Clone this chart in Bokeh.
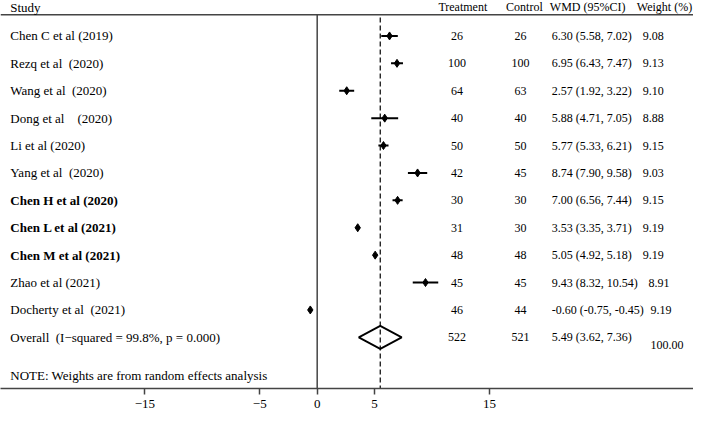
from bokeh.plotting import figure
from bokeh.models import Range1d, FixedTicker
from bokeh.core.properties import value
from bokeh.embed import file_html
from bokeh.resources import INLINE

# ---------------- data ----------------
studies = ["Chen C et al (2019)", "Rezq et al\u00a0 (2020)", "Wang et al\u00a0 (2020)",
           "Dong et al\u00a0\u00a0\u00a0 (2020)", "Li et al (2020)", "Yang et al\u00a0 (2020)",
           "Chen H et al (2020)", "Chen L et al (2021)", "Chen M et al (2021)",
           "Zhao et al (2021)", "Docherty et al\u00a0 (2021)"]
bold = [False, False, False, False, False, False, True, True, True, False, False]
wmd = [6.30, 6.95, 2.57, 5.88, 5.77, 8.74, 7.00, 3.53, 5.05, 9.43, -0.60]
lo = [5.58, 6.43, 1.92, 4.71, 5.33, 7.90, 6.56, 3.35, 4.92, 8.32, -0.75]
hi = [7.02, 7.47, 3.22, 7.05, 6.21, 9.58, 7.44, 3.71, 5.18, 10.54, -0.45]
treatment = [26, 100, 64, 40, 50, 42, 30, 31, 48, 45, 46]
control = [26, 100, 63, 40, 50, 45, 30, 30, 48, 45, 44]
weight = ["9.08", "9.13", "9.10", "8.88", "9.15", "9.03", "9.15", "9.19", "9.19", "8.91", "9.19"]

overall_label = "Overall\u00a0 (I\u2212squared = 99.8%, p = 0.000)"
overall_wmd, overall_lo, overall_hi = 5.49, 3.62, 7.36
overall_treat, overall_ctrl, overall_weight = 522, 521, "100.00"
headers = ["Study", "Treatment", "Control", "WMD (95%CI)", "Weight (%)"]
note = "NOTE: Weights are from random effects analysis"
tick_vals = [-15, -5, 0, 5, 15]
tick_labels = {-15: "\u221215", -5: "\u22125", 0: "0", 5: "5", 15: "15"}

# ---------------- layout helpers ----------------
FONT = value("Liberation Serif")
PX0, PXU = 324.0, 11.75          # reference pixel of x=0, pixels per unit
def px2x(px):
    return (px - PX0) / PXU

ROW0, ROWH = 37.0, 28.6          # reference pixel of row 0, row height
def py2r(py):
    return (py - ROW0) / ROWH

W, H = 693, 412
p = figure(width=W, height=H, output_backend="svg", toolbar_location=None,
           x_range=Range1d(px2x(0), px2x(709)),
           y_range=Range1d(py2r(405), py2r(0)),
           y_axis_type=None, min_border_left=0, min_border_right=0,
           min_border_top=0, min_border_bottom=24)
p.outline_line_color = None
p.grid.visible = False
p.background_fill_color = "white"

n = len(studies)
rows = list(range(n))
r_over = n
y_top = py2r(15)
y_bot = py2r(405)

# header rule
p.segment(x0=[px2x(0)], y0=[y_top], x1=[px2x(709)], y1=[y_top], line_color="#444444", line_width=1.5)
# null line and overall dashed line
p.segment(x0=[0], y0=[y_top], x1=[0], y1=[y_bot], line_color="#444444", line_width=1.5)
p.segment(x0=[overall_wmd], y0=[y_top + 0.1], x1=[overall_wmd], y1=[y_bot], line_color="black",
          line_width=1.2, line_dash="5 3")

# CI lines and points
p.segment(x0=lo, y0=rows, x1=hi, y1=rows, line_color="black", line_width=2)
p.scatter(x=wmd, y=rows, marker="diamond", size=8, fill_color="black", line_color="black")

# overall diamond
hh = 12 / ROWH
p.patch(x=[overall_lo, overall_wmd, overall_hi, overall_wmd],
        y=[r_over, r_over - hh, r_over, r_over + hh],
        fill_color="white", fill_alpha=0.0, line_color="black", line_width=1.8)

# study labels
for i, (s, b) in enumerate(zip(studies, bold)):
    p.text(x=[px2x(10)], y=[i], text=[s], text_font=FONT, text_font_size="13px",
           text_font_style="bold" if b else "normal", text_baseline="middle", text_align="left")
p.text(x=[px2x(10)], y=[r_over], text=[overall_label], text_font=FONT, text_font_size="13px",
       text_baseline="middle", text_align="left")
p.text(x=[px2x(10)], y=[py2r(391)], text=[note], text_font=FONT, text_font_size="13px",
       text_baseline="middle", text_align="left")

# headers
p.text(x=[px2x(10)], y=[py2r(7)], text=[headers[0]], text_font=FONT, text_font_size="13px",
       text_baseline="middle", text_align="left")
p.text(x=[px2x(473)], y=[py2r(7)], text=[headers[1]], text_font=FONT, text_font_size="12px",
       text_baseline="middle", text_align="center")
p.text(x=[px2x(536)], y=[py2r(7)], text=[headers[2]], text_font=FONT, text_font_size="12px",
       text_baseline="middle", text_align="center")
p.text(x=[px2x(562)], y=[py2r(7)], text=[headers[3]], text_font=FONT, text_font_size="12px",
       text_baseline="middle", text_align="left")
p.text(x=[px2x(651)], y=[py2r(7)], text=[headers[4]], text_font=FONT, text_font_size="12px",
       text_baseline="middle", text_align="left")

# value columns
treat_txt = [str(t) for t in treatment] + [str(overall_treat)]
ctrl_txt = [str(c) for c in control] + [str(overall_ctrl)]
wmd_txt = [f"{w:.2f} ({l:.2f}, {h:.2f})" for w, l, h in zip(wmd, lo, hi)] + \
          [f"{overall_wmd:.2f} ({overall_lo:.2f}, {overall_hi:.2f})"]
all_rows = rows + [r_over]
p.text(x=[px2x(467)] * (n + 1), y=all_rows, text=treat_txt, text_font=FONT, text_font_size="12px",
       text_baseline="middle", text_align="center")
p.text(x=[px2x(532)] * (n + 1), y=all_rows, text=ctrl_txt, text_font=FONT, text_font_size="12px",
       text_baseline="middle", text_align="center")
p.text(x=[px2x(564)] * (n + 1), y=all_rows, text=wmd_txt, text_font=FONT, text_font_size="12px",
       text_baseline="middle", text_align="left")
wx = [px2x(657)] * 9 + [px2x(663), px2x(665)]
p.text(x=wx, y=rows, text=weight, text_font=FONT, text_font_size="12px",
       text_baseline="middle", text_align="left")
p.text(x=[px2x(665)], y=[r_over + 0.28], text=[overall_weight], text_font=FONT, text_font_size="12px",
       text_baseline="middle", text_align="left")

# x axis
ax = p.xaxis[0]
ax.ticker = FixedTicker(ticks=tick_vals)
ax.major_label_overrides = tick_labels
ax.major_label_text_font = "Liberation Serif"
ax.major_label_text_font_size = "13px"
ax.major_label_text_color = "black"
ax.major_label_standoff = 5
ax.axis_line_color = "#444444"
ax.axis_line_width = 1.5
ax.major_tick_in = 0
ax.major_tick_out = 6
ax.major_tick_line_color = "#444444"
ax.major_tick_line_width = 1.5
ax.minor_tick_line_color = None

open("out.html", "w").write(file_html(p, INLINE))
